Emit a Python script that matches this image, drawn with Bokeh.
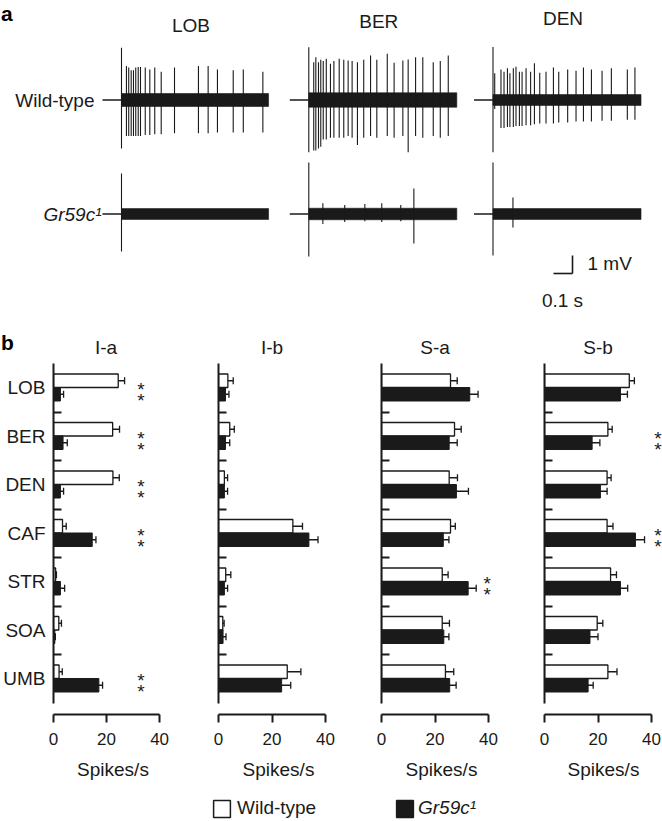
import numpy as np
from bokeh.plotting import figure
from bokeh.models import (ColumnDataSource, Range1d, FixedTicker, Whisker, TeeHead,
                          Legend, LegendItem)
from bokeh.layouts import column, row
from bokeh.embed import file_html
from bokeh.resources import INLINE
from bokeh.core.properties import value

FONT = "Liberation Sans"
INK = "#1a1a1a"

# ------------------------------------------------------------------ data (a)
stimuli = ["LOB", "BER", "DEN"]
genotypes = ["Wild-type", "Gr59c\u00b9"]
trace_duration = [0.774, 0.779, 0.779]        # s after stimulus onset
prestim = 0.1                                  # s of flat baseline before contact

# spike times (s after onset) and peak deflections (mV up / mV down)
wt_lob_t = [0.0, 0.026, 0.038, 0.051, 0.063, 0.075, 0.088, 0.100, 0.125, 0.149,
            0.175, 0.209, 0.279, 0.405, 0.456, 0.505, 0.588, 0.641, 0.744]
wt_lob_up = [2.9, 1.89, 1.8, 1.65, 1.65, 1.8, 1.83, 1.83, 1.8, 1.7,
             1.8, 1.57, 1.8, 1.89, 1.89, 1.7, 1.65, 1.7, 1.57]
wt_lob_dn = [2.7, 2.0, 2.0, 2.0, 2.0, 2.0, 2.0, 2.0, 1.95, 1.95,
             1.9, 1.9, 1.85, 1.85, 1.85, 1.8, 1.8, 1.8, 1.8]
wt_ber_t = [0.0, 0.026, 0.037, 0.051, 0.063, 0.076, 0.092, 0.114, 0.132, 0.160,
            0.184, 0.207, 0.228, 0.256, 0.289, 0.325, 0.358, 0.413, 0.449, 0.495,
            0.523, 0.562, 0.600, 0.655, 0.692, 0.734]
wt_ber_up = [2.93, 2.1, 2.38, 2.1, 2.23, 2.16, 2.29, 2.01, 2.16, 2.29,
             2.23, 2.19, 2.16, 2.1, 2.23, 2.47, 2.23, 2.57, 2.07, 2.19,
             2.25, 2.38, 2.38, 2.1, 2.16, 2.47]
wt_ber_dn = [2.9, 2.8, 2.8, 2.7, 2.6, 2.2, 2.2, 2.1, 2.1, 2.1,
             2.1, 2.0, 2.1, 2.5, 2.1, 2.0, 2.1, 2.0, 2.1, 2.0,
             2.9, 2.0, 2.1, 2.0, 2.1, 2.0]
wt_den_t = [0.0, 0.009, 0.042, 0.058, 0.076, 0.089, 0.107, 0.121, 0.139, 0.153,
            0.174, 0.198, 0.218, 0.246, 0.279, 0.318, 0.346, 0.393, 0.437, 0.476,
            0.518, 0.574, 0.623, 0.707, 0.747]
wt_den_up = [2.95, 1.48, 1.70, 1.57, 1.76, 1.48, 1.76, 1.85, 1.57, 1.57,
             1.76, 1.57, 2.04, 1.52, 1.57, 1.81, 1.57, 1.70, 1.63, 1.81,
             1.70, 1.63, 1.76, 1.70, 1.81]
wt_den_dn = [2.9, 0.5, 1.55, 1.55, 1.5, 1.5, 1.5, 1.45, 1.45, 1.45,
             1.4, 1.4, 1.35, 1.3, 1.3, 1.3, 1.25, 1.25, 1.2, 1.2,
             1.2, 1.15, 1.15, 1.1, 1.1]
gr_lob_t = [0.0]
gr_lob_up = [2.25]
gr_lob_dn = [2.08]
gr_ber_t = [0.0, 0.074, 0.189, 0.295, 0.384, 0.484, 0.553]
gr_ber_up = [2.86, 0.6, 0.5, 0.55, 0.6, 0.5, 1.42]
gr_ber_dn = [2.36, 0.55, 0.45, 0.4, 0.45, 0.4, 1.64]
gr_den_t = [0.0, 0.105]
gr_den_up = [2.86, 0.92]
gr_den_dn = [2.3, 0.75]
wt_noise = [0.36, 0.4, 0.3]                    # mV half-width of baseline noise
gr_noise = [0.3, 0.32, 0.3]

# ------------------------------------------------------------------ data (b)
odors = ["LOB", "BER", "DEN", "CAF", "STR", "SOA", "UMB"]
sensilla = ["I-a", "I-b", "S-a", "S-b"]
ia_wt = [24.4, 22.3, 22.4, 3.4, 0.8, 2.0, 2.1]
ia_wt_err = [2.4, 2.6, 2.4, 1.4, 0.3, 1.0, 1.2]
ia_mut = [2.6, 3.6, 2.6, 14.6, 2.6, 0.5, 17.1]
ia_mut_err = [1.2, 1.6, 1.2, 1.4, 1.6, 0.2, 1.4]
ib_wt = [3.5, 4.2, 2.2, 27.8, 2.7, 1.6, 25.7]
ib_wt_err = [2.0, 1.7, 1.2, 3.6, 1.9, 0.5, 5.1]
ib_mut = [2.6, 2.6, 2.2, 33.8, 2.2, 1.7, 23.6]
ib_mut_err = [1.3, 1.6, 1.2, 3.4, 1.2, 1.1, 3.4]
sa_wt = [25.8, 27.3, 25.3, 25.8, 22.7, 22.7, 23.9]
sa_wt_err = [2.5, 2.5, 3.1, 1.8, 2.2, 2.7, 3.1]
sa_mut = [33.0, 25.3, 28.0, 23.1, 32.4, 23.3, 25.5]
sa_mut_err = [3.1, 3.0, 4.5, 2.1, 3.0, 1.9, 2.4]
sb_wt = [31.7, 23.7, 23.4, 23.4, 24.7, 19.7, 23.7]
sb_wt_err = [1.9, 1.6, 1.5, 2.2, 2.2, 2.1, 3.4]
sb_mut = [28.4, 17.8, 20.9, 34.0, 28.4, 17.0, 16.3]
sb_mut_err = [2.6, 2.9, 2.5, 3.4, 2.7, 3.0, 1.9]
ia_sig = ["LOB", "BER", "DEN", "CAF", "UMB"]
ib_sig = []
sa_sig = ["STR"]
sb_sig = ["BER", "CAF"]
x_ticks = [0, 20, 40]

# ------------------------------------------------------------------ layout constants
W = 662
PX_S, PX_MV = 190.0, 18.0
A_H = 358
KX = 107 / 40.0          # px per spike/s
KY = 48.5                # px per odour row
FRAME_TOP = 363
FRAME_H = 351
B_H = 432
LG_H = 821 - A_H - B_H
panel_border = [52, 46, 43, 43]
panel_frame_w = [120, 120, 120, 118]
panel_frame_left = [52, 218, 381, 544]
star_x = [33.0, 33.0, 39.5, 42.4]


def ax(px):
    return px / PX_S


def ay(py):
    return -py / PX_MV


onset_px = [121, 308.3, 492.5]
row_base_px = [99.5, 213.5]
title_y_px = [24.5, 21, 18]

pa = figure(width=W, height=A_H, x_range=Range1d(0, W / PX_S),
            y_range=Range1d(-A_H / PX_MV, 0), min_border=0,
            x_axis_location=None, y_axis_location=None,
            output_backend="svg", toolbar_location=None, outline_line_color=None)
pa.grid.visible = False

rows = [
    ([wt_lob_t, wt_ber_t, wt_den_t], [wt_lob_up, wt_ber_up, wt_den_up],
     [wt_lob_dn, wt_ber_dn, wt_den_dn], wt_noise),
    ([gr_lob_t, gr_ber_t, gr_den_t], [gr_lob_up, gr_ber_up, gr_den_up],
     [gr_lob_dn, gr_ber_dn, gr_den_dn], gr_noise),
]
sx, sy0, sy1 = [], [], []
ql, qr, qt, qb = [], [], [], []
fx0, fx1, fy = [], [], []
for r, (tl, ul, dl, noise) in enumerate(rows):
    base = ay(row_base_px[r])
    for c in range(3):
        t0 = ax(onset_px[c])
        for t, u, d in zip(tl[c], ul[c], dl[c]):
            sx.append(t0 + t)
            sy0.append(base + u)
            sy1.append(base - d)
        ql.append(t0)
        qr.append(t0 + trace_duration[c])
        qt.append(base + noise[c])
        qb.append(base - noise[c])
        fx0.append(t0 - prestim)
        fx1.append(t0)
        fy.append(base)

pa.quad(left=ql, right=qr, top=qt, bottom=qb, fill_color=INK, line_color=INK, line_width=0.6)
pa.segment(x0=fx0, y0=fy, x1=fx1, y1=fy, line_color=INK, line_width=1.3)
pa.segment(x0=sx, y0=sy0, x1=sx, y1=sy1, line_color=INK, line_width=1.1)

# titles over traces
tx = [ax(onset_px[c]) + trace_duration[c] / 2 - 4 / PX_S for c in range(3)]
ty = [ay(v) for v in title_y_px]
pa.text(x=tx, y=ty, text=stimuli, text_font=value(FONT), text_font_size="19px",
        text_align="center", text_baseline="middle", text_color=INK)
# row labels
pa.text(x=[ax(94)], y=[ay(row_base_px[0])], text=[genotypes[0]], text_font=value(FONT),
        text_font_size="19px", text_align="right", text_baseline="middle", text_color=INK)
pa.text(x=[ax(101)], y=[ay(row_base_px[1])], text=[genotypes[1]], text_font=value(FONT),
        text_font_size="19px", text_font_style="italic", text_align="right",
        text_baseline="middle", text_color=INK)
# panel letters
pa.text(x=[ax(0.5), ax(0.5)], y=[ay(13), ay(342)], text=["a", "b"], text_font=value(FONT),
        text_font_size="21px", text_font_style="bold", text_align="left",
        text_baseline="alphabetic", text_color="black")
# scale bar: 1 mV x 0.1 s
cx, cy = ax(572), ay(273)
pa.segment(x0=[cx, cx - 0.1], y0=[cy, cy], x1=[cx, cx], y1=[cy + 1.0, cy],
           line_color=INK, line_width=1.6)
pa.text(x=[ax(587)], y=[ay(263)], text=["1 mV"], text_font=value(FONT), text_font_size="19px",
        text_align="left", text_baseline="middle", text_color=INK)
pa.text(x=[ax(562)], y=[ay(300)], text=["0.1 s"], text_font=value(FONT), text_font_size="19px",
        text_align="center", text_baseline="middle", text_color=INK)
# titles of the panel-b columns (centred over each 0-40 axis)
pa.text(x=[ax(fl + (x_ticks[0] + x_ticks[-1]) / 2 * KX) for fl in panel_frame_left],
        y=[ay(347)] * 4, text=sensilla, text_font=value(FONT), text_font_size="19px",
        text_align="center", text_baseline="middle", text_color=INK)

# ------------------------------------------------------------------ panel b
Y_TOP = -0.5
Y_BOT = -0.5 + FRAME_H / KY
panel_data = [
    (ia_wt, ia_wt_err, ia_mut, ia_mut_err, ia_sig),
    (ib_wt, ib_wt_err, ib_mut, ib_mut_err, ib_sig),
    (sa_wt, sa_wt_err, sa_mut, sa_mut_err, sa_sig),
    (sb_wt, sb_wt_err, sb_mut, sb_mut_err, sb_sig),
]
idx = np.arange(len(odors))
BAR_H = 13.5 / KY
OFF_WT = -7.0 / KY
OFF_MUT = 6.5 / KY
TOP_B = FRAME_TOP - A_H

panels = []
for k, name in enumerate(sensilla):
    wt, wte, mut, mute, sig = panel_data[k]
    fw = panel_frame_w[k]
    p = figure(width=panel_border[k] + fw, height=B_H,
               x_range=Range1d(0, fw / KX), y_range=Range1d(Y_BOT, Y_TOP),
               min_border_left=panel_border[k], min_border_right=0,
               min_border_top=TOP_B, min_border_bottom=B_H - TOP_B - FRAME_H,
               output_backend="svg", toolbar_location=None, outline_line_color=None)
    p.grid.visible = False
    src = ColumnDataSource(dict(
        y_wt=idx + OFF_WT, y_mut=idx + OFF_MUT,
        wt=wt, wt_lo=[a - b for a, b in zip(wt, wte)], wt_hi=[a + b for a, b in zip(wt, wte)],
        mut=mut, mut_lo=[a - b for a, b in zip(mut, mute)], mut_hi=[a + b for a, b in zip(mut, mute)],
    ))
    p.hbar(y="y_wt", left=0, right="wt", height=BAR_H, source=src,
           fill_color="white", line_color=INK, line_width=1.3)
    p.hbar(y="y_mut", left=0, right="mut", height=BAR_H, source=src,
           fill_color=INK, line_color=INK, line_width=1.0)
    for base, lo, hi in (("y_wt", "wt_lo", "wt_hi"), ("y_mut", "mut_lo", "mut_hi")):
        w = Whisker(source=src, base=base, lower=lo, upper=hi, dimension="width",
                    line_color=INK, line_width=1.3,
                    lower_head=TeeHead(size=7, line_color=INK, line_width=1.3),
                    upper_head=TeeHead(size=7, line_color=INK, line_width=1.3))
        p.add_layout(w)
    # significance stars
    if sig:
        syy, sxx = [], []
        for o in sig:
            i = odors.index(o)
            for d in (-5.5, 5.5):
                syy.append(i + (2.5 + d) / KY)
                sxx.append(star_x[k])
        p.text(x=sxx, y=syy, text=["*"] * len(sxx), text_font=value(FONT),
               text_font_size="19px", text_align="center", text_baseline="middle",
               y_offset=5, text_color=INK)
    # x axis
    xa = p.xaxis[0]
    xa.ticker = FixedTicker(ticks=x_ticks)
    xa.bounds = (x_ticks[0], x_ticks[-1])
    xa.axis_line_width = 2
    xa.axis_line_color = INK
    xa.major_tick_line_width = 2
    xa.major_tick_line_color = INK
    xa.major_tick_in = 0
    xa.major_tick_out = 8
    xa.minor_tick_line_color = None
    xa.major_label_text_font = FONT
    xa.major_label_text_font_size = "17px"
    xa.major_label_text_color = INK
    xa.major_label_standoff = 10
    xa.axis_label = "Spikes/s"
    xa.axis_label_text_font = FONT
    xa.axis_label_text_font_size = "19px"
    xa.axis_label_text_font_style = "normal"
    xa.axis_label_text_color = INK
    xa.axis_label_standoff = 11
    # y axis
    ya = p.yaxis[0]
    ya.ticker = FixedTicker(ticks=[int(i) for i in idx], minor_ticks=[i + 0.5 for i in idx[:-1]])
    ya.bounds = (-0.5, len(odors) - 0.5)
    ya.axis_line_width = 2
    ya.axis_line_color = INK
    ya.major_tick_in = 0
    ya.major_tick_out = 0
    ya.minor_tick_in = 8
    ya.minor_tick_out = 0
    ya.minor_tick_line_width = 2
    ya.minor_tick_line_color = INK
    if k == 0:
        ya.major_label_overrides = {int(i): o for i, o in zip(idx, odors)}
    else:
        ya.major_label_overrides = {int(i): "" for i in idx}
    ya.major_label_text_font = FONT
    ya.major_label_text_font_size = "19px"
    ya.major_label_text_color = INK
    ya.major_label_standoff = 8
    panels.append(p)

# ------------------------------------------------------------------ legend
lg = figure(width=W, height=LG_H, x_range=Range1d(0, 1), y_range=Range1d(0, 1), min_border=0,
            x_axis_location=None, y_axis_location=None, output_backend="svg",
            toolbar_location=None, outline_line_color=None)
lg.grid.visible = False
r_wt = lg.rect(x=[-5], y=[-5], width=1, height=1, fill_color="white", line_color=INK, line_width=1.5)
r_mut = lg.rect(x=[-5], y=[-5], width=1, height=1, fill_color=INK, line_color=INK, line_width=1.5)
common = dict(orientation="horizontal", glyph_width=21, glyph_height=21, padding=0, margin=0,
              border_line_color=None, background_fill_alpha=0, label_text_font=FONT,
              label_text_font_size="19px", label_text_color=INK, label_height=21)
leg1 = Legend(items=[LegendItem(label=genotypes[0], renderers=[r_wt])], location=(211, 2),
              label_standoff=5, **common)
leg2 = Legend(items=[LegendItem(label=genotypes[1], renderers=[r_mut])], location=(394, 2),
              label_standoff=3, label_text_font_style="italic", **common)
lg.add_layout(leg1)
lg.add_layout(leg2)

layout = column(pa, row(*panels), lg)
open("out.html", "w").write(file_html(layout, INLINE))
